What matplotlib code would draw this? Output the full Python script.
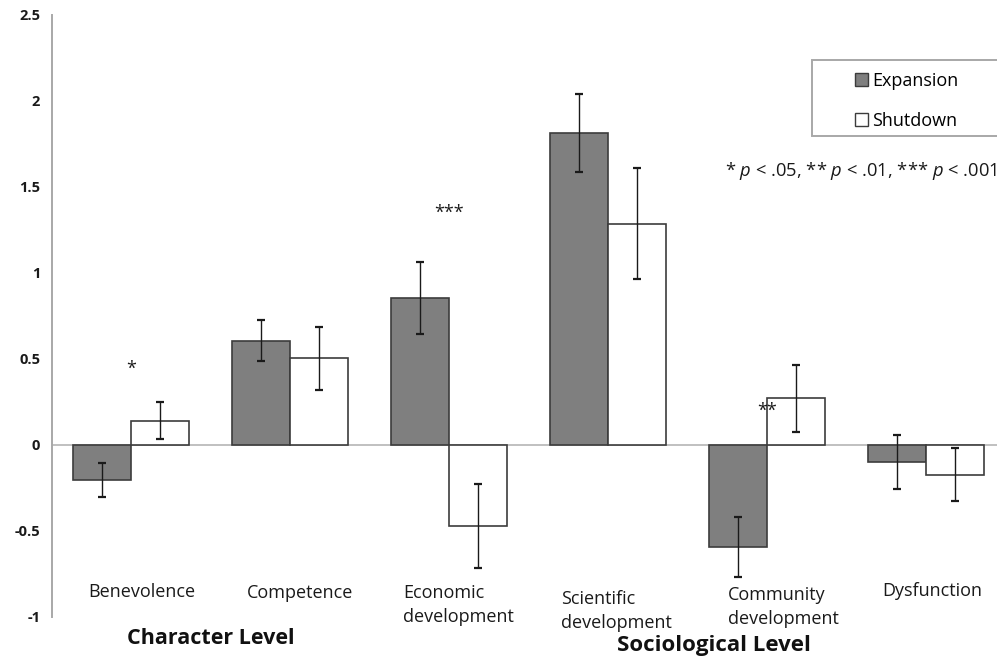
import matplotlib
matplotlib.use("Agg")
import matplotlib.pyplot as plt
from matplotlib.patches import Patch, Rectangle
import numpy as np

plt.rcParams['font.family'] = ['Open Sans', 'DejaVu Sans']
plt.rcParams['axes.unicode_minus'] = False
plt.rcParams['mathtext.fontset'] = 'custom'
plt.rcParams['mathtext.it'] = 'Open Sans:italic'
plt.rcParams['mathtext.rm'] = 'Open Sans'

categories = ["Benevolence", "Competence", "Economic\ndevelopment",
              "Scientific\ndevelopment", "Community\ndevelopment", "Dysfunction"]
expansion = [-0.205, 0.606, 0.853, 1.816, -0.593, -0.099]
expansion_err = [0.10, 0.12, 0.21, 0.226, 0.175, 0.158]
shutdown = [0.142, 0.504, -0.471, 1.287, 0.271, -0.172]
shutdown_err = [0.11, 0.183, 0.245, 0.322, 0.197, 0.154]
yticks = [-1, -0.5, 0, 0.5, 1, 1.5, 2, 2.5]
stars = [(0, "*", 0.44), (2, "***", 1.35), (4, "**", 0.20)]
levels = ["Character Level", "Sociological Level"]

W, H = 997, 660
fig = plt.figure(figsize=(W / 100, H / 100), dpi=100)
ax = fig.add_axes([52 / W, 1 - 617 / H, 953.5 / W, 602 / H])

x = np.arange(len(categories))
bw = 0.365
ax.axhline(0, color="#b5b5b5", lw=1.2, zorder=1)
ax.bar(x - bw / 2, expansion, bw, color="#7f7f7f", edgecolor="#3c3c3c", lw=1.2, zorder=2)
ax.bar(x + bw / 2, shutdown, bw, color="white", edgecolor="#3c3c3c", lw=1.2, zorder=2)
ax.errorbar(x - bw / 2, expansion, yerr=expansion_err, fmt="none", ecolor="#1a1a1a",
            elinewidth=1.0, capsize=3, capthick=1.6, zorder=3)
ax.errorbar(x + bw / 2, shutdown, yerr=shutdown_err, fmt="none", ecolor="#1a1a1a",
            elinewidth=1.0, capsize=3, capthick=1.6, zorder=3)

ax.set_xlim(-0.5, len(categories) - 0.5)
ax.set_ylim(-1, 2.5)
ax.set_yticks(yticks)
ax.set_yticklabels(["{:g}".format(v) for v in yticks], fontsize=10.5, fontweight="bold", color="#1a1a1a")
ax.set_xticks([])
ax.tick_params(axis="y", length=0, pad=8.5)
for s in ["top", "right", "bottom"]:
    ax.spines[s].set_visible(False)
ax.spines["left"].set_color("#a8a8a8")
ax.spines["left"].set_linewidth(1.4)

for i, s, yv in stars:
    ax.text(i, yv, s, ha="center", va="center", fontsize=13, color="#1a1a1a")

# category labels (text boxes below plot)
cat_pos = [(88, 592), (247, 593), (403, 605), (561, 611), (728, 607), (882, 591)]
for lab, (px, py) in zip(categories, cat_pos):
    fig.text(px / W, 1 - py / H, lab, ha="left", va="center", fontsize=13,
             color="#1a1a1a", linespacing=1.38)

fig.text(211 / W, 1 - 639 / H, levels[0], ha="center", va="center", fontsize=15.5,
         fontweight="bold", color="#111111")
fig.text(714 / W, 1 - 646 / H, levels[1], ha="center", va="center", fontsize=16,
         fontweight="bold", color="#111111")

# significance note
fig.text(997 / W, 1 - 171 / H, r"* $\it{p}$ < .05, ** $\it{p}$ < .01, *** $\it{p}$ < .001",
         ha="right", va="center", fontsize=13.2, color="#1a1a1a")

# legend box
fig.patches.append(Rectangle((811.7 / W, 1 - 136 / H), (1005 - 811.7) / W, 76 / H,
                             transform=fig.transFigure, facecolor="white",
                             edgecolor="#a8a8a8", lw=1.4, zorder=5))
handles = [Patch(facecolor="#7f7f7f", edgecolor="#3c3c3c", lw=1.0),
           Patch(facecolor="white", edgecolor="#3c3c3c", lw=1.0)]
leg = fig.legend(handles, ["Expansion", "Shutdown"], loc="upper left",
                 bbox_to_anchor=(855 / W, 1 - 72 / H), frameon=False, fontsize=13,
                 handlelength=0.7, handleheight=0.7, handletextpad=0.25,
                 labelspacing=1.2, borderpad=0, borderaxespad=0)
leg.set_zorder(6)

fig.savefig("out.png", dpi=100)
